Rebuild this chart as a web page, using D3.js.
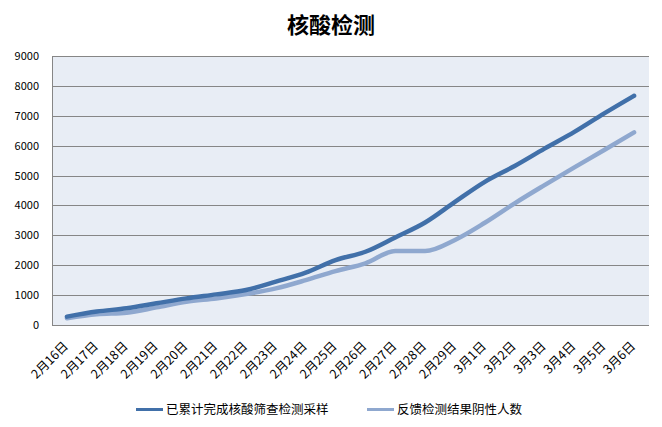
<!DOCTYPE html>
<html><head><meta charset="utf-8">
<script src="https://cdn.jsdelivr.net/npm/d3@7"></script>
<style>body{margin:0;background:#fff}svg{display:block}</style>
</head><body>
<script>
const categories = ["2月16日","2月17日","2月18日","2月19日","2月20日","2月21日","2月22日","2月23日","2月24日","2月25日","2月26日","2月27日","2月28日","2月29日","3月1日","3月2日","3月3日","3月4日","3月5日","3月6日"];
const sampled = [280,450,560,725,890,1025,1170,1450,1750,2170,2450,2930,3430,4120,4790,5320,5900,6460,7080,7670];
const negative = [225,360,410,590,780,890,1035,1225,1500,1805,2065,2475,2475,2845,3420,4070,4680,5275,5855,6445];
const seriesNames = ["已累计完成核酸筛查检测采样","反馈检测结果阴性人数"];
const yTicks = [0,1000,2000,3000,4000,5000,6000,7000,8000,9000];
const title = "核酸检测";

const W=662,H=427;
const m={l:52,r:13,t:56,b:102};
const svg=d3.select("body").append("svg").attr("width",W).attr("height",H);
const font="'Noto Sans CJK SC', 'Noto Sans', sans-serif";

svg.append("text").attr("x",331).attr("y",33).attr("text-anchor","middle")
  .attr("font-family",font).attr("font-weight","bold").attr("font-size",22).attr("fill","#000").text(title);

const x=d3.scaleBand().domain(categories).range([m.l,W-m.r]);
const y=d3.scaleLinear().domain([0,9000]).range([H-m.b,m.t]);
svg.append("rect").attr("x",m.l).attr("y",m.t).attr("width",W-m.r-m.l).attr("height",H-m.b-m.t).attr("fill","#E8EDF5");
svg.append("g").selectAll("line").data(yTicks).join("line")
  .attr("x1",m.l).attr("x2",W-m.r).attr("y1",d=>Math.round(y(d))+0.5).attr("y2",d=>Math.round(y(d))+0.5)
  .attr("stroke","#868686").attr("stroke-width",1);
svg.append("line").attr("x1",m.l+0.5).attr("x2",m.l+0.5).attr("y1",m.t).attr("y2",H-m.b).attr("stroke","#868686");

const yAxis=d3.axisLeft(y).tickValues(yTicks).tickSize(0).tickPadding(13).tickFormat(d3.format("d"));
const gy=svg.append("g").attr("transform",`translate(${m.l},0)`).call(yAxis);
gy.select(".domain").remove();
gy.selectAll("text").attr("font-family",font).attr("font-size",11).attr("fill","#000");

const xAxis=d3.axisBottom(x).tickSize(0).tickPadding(0);
const gx=svg.append("g").attr("transform",`translate(0,${H-m.b})`).call(xAxis);
gx.select(".domain").remove();
gx.selectAll("text").attr("font-family",font).attr("font-size",12.5).attr("fill","#000")
  .attr("text-anchor","end").attr("dy",0).attr("transform","translate(2,22) rotate(-45)");

const line=d3.line().x((d,i)=>x(categories[i])+x.bandwidth()/2).y(d=>y(d)).curve(d3.curveMonotoneX);
const colors=["#4170A9","#8FA8CF"];
[negative,sampled].forEach((s,k)=>{
  svg.append("path").attr("d",line(s)).attr("fill","none").attr("stroke",k?colors[0]:colors[1])
    .attr("stroke-width",4.5).attr("stroke-linecap","round").attr("stroke-linejoin","round");
});

const lg=[{x:136,name:seriesNames[0],c:colors[0]},{x:367,name:seriesNames[1],c:colors[1]}];
lg.forEach(d=>{
  svg.append("line").attr("x1",d.x).attr("x2",d.x+27).attr("y1",409.5).attr("y2",409.5).attr("stroke",d.c).attr("stroke-width",3);
  svg.append("text").attr("x",d.x+30).attr("y",414).attr("font-family",font).attr("font-size",12.5).attr("fill","#000").text(d.name);
});
</script>
</body></html>
